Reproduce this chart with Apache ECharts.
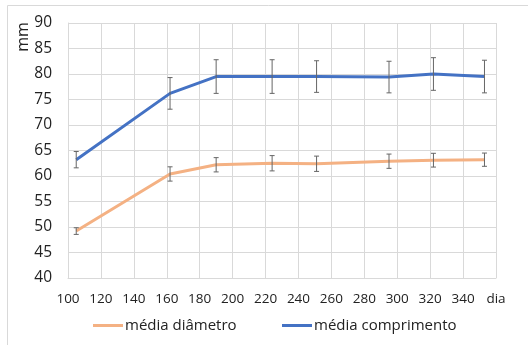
<!DOCTYPE html>
<html><head><meta charset="utf-8">
<script src="https://cdn.jsdelivr.net/npm/echarts@6/dist/echarts.min.js"></script>
<style>html,body{margin:0;padding:0;background:#fff}#c{width:528px;height:345px}</style>
</head><body><div id="c"></div>
<script>
const days = [105, 162, 190, 224, 251, 295, 322, 353];
const diametro = [49.2, 60.4, 62.2, 62.5, 62.4, 62.9, 63.1, 63.2];
const diametroErr = [0.65, 1.4, 1.4, 1.5, 1.5, 1.4, 1.35, 1.3];
const comprimento = [63.2, 76.2, 79.5, 79.5, 79.5, 79.4, 80.0, 79.5];
const comprimentoErr = [1.6, 3.1, 3.3, 3.3, 3.1, 3.1, 3.2, 3.2];
const xTickLast = 'dia';
const yName = 'mm';

const font = '"Open Sans", Lato, sans-serif';
function pairs(v){ return days.map((d,i)=>[d, v[i]]); }
function errData(v,e){ return days.map((d,i)=>[d, v[i]-e[i], v[i]+e[i]]); }
function errItem(params, api){
  const lo = api.coord([api.value(0), api.value(1)]);
  const hi = api.coord([api.value(0), api.value(2)]);
  const c = 2.5;
  const st = {stroke:'#666', lineWidth:1};
  return {type:'group', children:[
    {type:'line', shape:{x1:lo[0],y1:lo[1],x2:hi[0],y2:hi[1]}, style:st},
    {type:'line', shape:{x1:lo[0]-c,y1:lo[1],x2:lo[0]+c,y2:lo[1]}, style:st},
    {type:'line', shape:{x1:hi[0]-c,y1:hi[1],x2:hi[0]+c,y2:hi[1]}, style:st}
  ]};
}
const chart = echarts.init(document.getElementById('c'));
chart.setOption({
  animation:false,
  textStyle:{fontFamily:font},
  grid:{left:68, right:32, top:23, bottom:67},
  graphic:[
    {type:'rect', shape:{x:7.5,y:5.5,width:540,height:360}, style:{fill:'none', stroke:'#d9d9d9', lineWidth:1}, silent:true},
    {type:'text', x:23, y:37, rotation:Math.PI/2, style:{text:yName, font:'16px "Open Sans", sans-serif', fill:'#222', align:'center', verticalAlign:'middle'}}
  ],
  xAxis:{type:'value', min:100, max:360, interval:20,
    axisLine:{show:true, lineStyle:{color:'#d9d9d9', width:1}},
    axisTick:{show:false},
    splitLine:{show:true, lineStyle:{color:'#d9d9d9'}},
    axisLabel:{color:'#222', fontSize:13.5, margin:14, formatter:v=> v===360? xTickLast : String(v)}
  },
  yAxis:{type:'value', min:40, max:90, interval:5,
    axisLine:{show:true, lineStyle:{color:'#d9d9d9'}},
    axisTick:{show:false},
    splitLine:{show:true, lineStyle:{color:'#d9d9d9'}},
    axisLabel:{color:'#222', fontSize:15.5, margin:16}
  },
  legend:[
    {data:['média diâmetro'], left:88, top:313, itemWidth:30, itemHeight:3, icon:'rect', itemGap:2,
      textStyle:{fontSize:15, color:'#222', padding:[0,0,0,-3]}},
    {data:['média comprimento'], left:277, top:313, itemWidth:30, itemHeight:3, icon:'rect',
      textStyle:{fontSize:15, color:'#222', padding:[0,0,0,-3]}}
  ],
  series:[
    {name:'média diâmetro', type:'line', data:pairs(diametro), showSymbol:false, symbol:'none',
      lineStyle:{color:'#F4B183', width:3}, itemStyle:{color:'#F4B183'}, z:2},
    {name:'média comprimento', type:'line', data:pairs(comprimento), showSymbol:false, symbol:'none',
      lineStyle:{color:'#4472C4', width:3}, itemStyle:{color:'#4472C4'}, z:2},
    {type:'custom', data:errData(diametro, diametroErr), renderItem:errItem, z:5, encode:{x:0,y:[1,2]}},
    {type:'custom', data:errData(comprimento, comprimentoErr), renderItem:errItem, z:5, encode:{x:0,y:[1,2]}}
  ]
});
</script></body></html>
